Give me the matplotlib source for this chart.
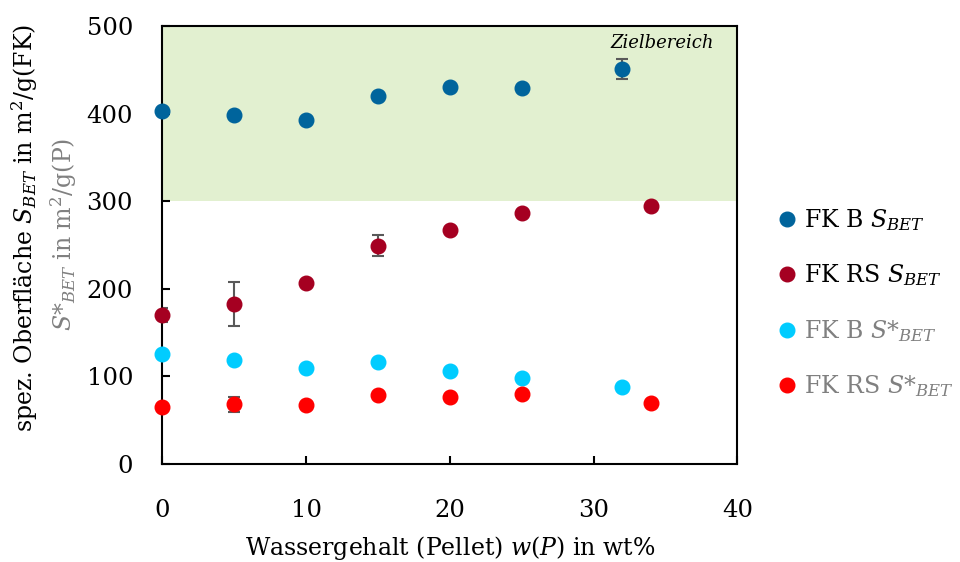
import numpy as np
import matplotlib.pyplot as plt

plt.rcParams['font.family'] = ['DejaVu Serif']
plt.rcParams['mathtext.fontset'] = 'dejavuserif'

# Wassergehalt der Pellets in wt%
x_b = [0, 5, 10, 15, 20, 25, 32]
x_rs = [0, 5, 10, 15, 20, 25, 34]

# spez. Oberflaeche bezogen auf FK
s_b = [403, 398, 393, 420, 430, 429, 451]
s_b_err = [3, 0, 0, 0, 0, 0, 11]
s_rs = [170, 183, 207, 249, 267, 286, 295]
s_rs_err = [8, 25, 0, 12, 0, 0, 0]

# spez. Oberflaeche bezogen auf Pellet
s_b_p = [126, 119, 110, 117, 106, 98, 88]
s_b_p_err = [0, 0, 0, 0, 0, 0, 0]
s_rs_p = [65, 68, 67, 79, 76, 80, 70]
s_rs_p_err = [0, 9, 0, 0, 0, 0, 0]

S_FK = r'$\mathit{S}_{\mathit{BET}}$'
S_P = r'$\mathit{S}{*}_{\mathit{BET}}$'

series = [
    (x_b, s_b, s_b_err, '#00649c', 'FK B ' + S_FK, 'black'),
    (x_rs, s_rs, s_rs_err, '#a50021', 'FK RS ' + S_FK, 'black'),
    (x_b, s_b_p, s_b_p_err, '#00ccff', 'FK B ' + S_P, '#808080'),
    (x_rs, s_rs_p, s_rs_p_err, '#ff0000', 'FK RS ' + S_P, '#808080'),
]

fig = plt.figure(figsize=(9.6, 5.62), dpi=100)
ax = fig.add_axes([0.169, 0.1744, 0.599, 0.7793])

# Zielbereich
ax.axhspan(300, 500, color='#e2f0d0', zorder=0, lw=0)
ax.text(38.4, 491, 'Zielbereich', ha='right', va='top', fontsize=13, style='italic')

for xs, ys, errs, col, lab, tcol in series:
    xs = np.array(xs)
    ys = np.array(ys)
    errs = np.array(errs)
    m = errs > 0
    if m.any():
        ax.errorbar(xs[m], ys[m], yerr=errs[m], fmt='none', ecolor='#595959',
                    elinewidth=1.5, capsize=4, capthick=1.5, zorder=2)
    ax.plot(xs, ys, 'o', color=col, ms=10.5, label=lab, zorder=3, clip_on=False)

ax.set_xlim(0, 40)
ax.set_ylim(0, 500)
ax.set_xticks([0, 10, 20, 30, 40])
ax.set_yticks([0, 100, 200, 300, 400, 500])
ax.tick_params(direction='in', length=6, width=1.5, labelsize=17.5)
ax.tick_params(axis='x', pad=25)
ax.tick_params(axis='y', pad=21)
for sp in ax.spines.values():
    sp.set_linewidth(1.5)

ax.set_xlabel(r'Wassergehalt (Pellet) $\mathit{w(P)}$ in wt%', fontsize=17, labelpad=9)
fig.text(0.026, 0.595, 'spez. Oberfläche ' + S_FK + r' in m$^2$/g(FK)',
         rotation=90, ha='center', va='center', fontsize=17)
fig.text(0.066, 0.583, S_P + r' in m$^2$/g(P)',
         rotation=90, ha='center', va='center', fontsize=17, color='#808080')

leg = ax.legend(loc='center left', bbox_to_anchor=(1.021, 0.367), frameon=False,
                fontsize=17, labelspacing=1.25, handletextpad=0.0, handlelength=1.4)
for txt, (_, _, _, _, _, tcol) in zip(leg.get_texts(), series):
    txt.set_color(tcol)

fig.savefig('out.png', dpi=100)
